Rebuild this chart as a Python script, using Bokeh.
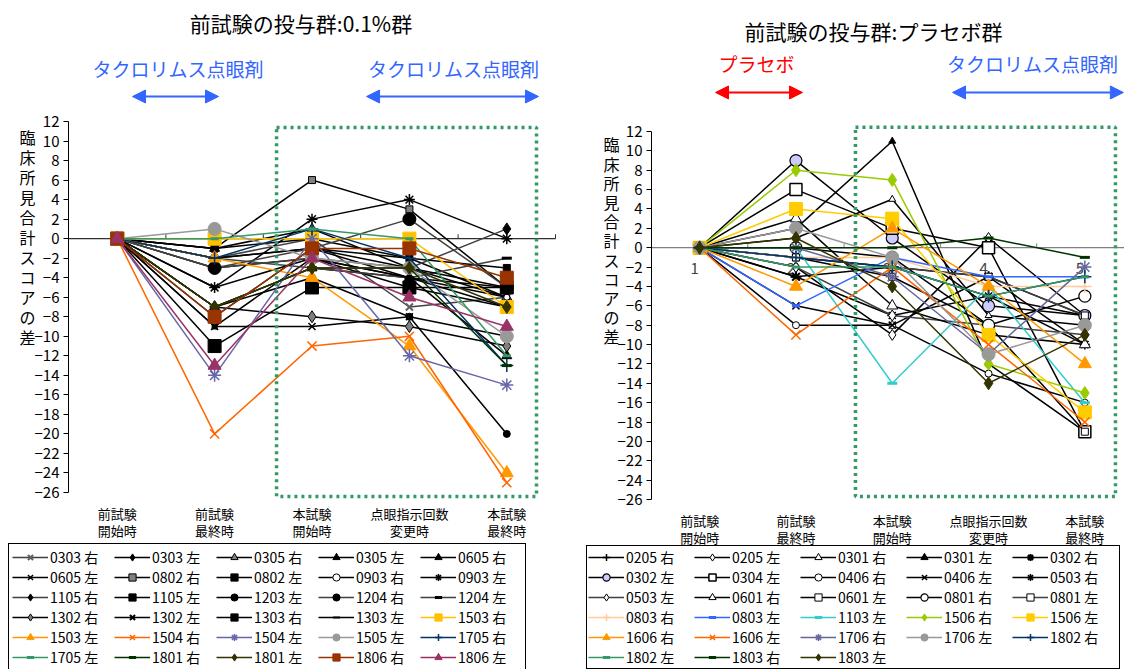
from bokeh.plotting import figure
from bokeh.models import (Range1d, FixedTicker, Label, Arrow, NormalHead, LinearAxis,
                          BoxAnnotation, Legend, LegendItem)
from bokeh.embed import file_html
from bokeh.resources import INLINE
from bokeh.core.properties import value

FONT = "Noto Sans CJK JP"

# ---------------- data ----------------
categories = ["前試験\n開始時", "前試験\n最終時", "本試験\n開始時", "点眼指示回数\n変更時", "本試験\n最終時"]
x_pos = [1, 2, 3, 4, 5]
y_ticks = [12, 10, 8, 6, 4, 2, 0, -2, -4, -6, -8, -10, -12, -14, -16, -18, -20, -22, -24, -26]
y_tick_labels = [str(t).replace("-", "−") for t in y_ticks]

left_title = "前試験の投与群:0.1%群"
right_title = "前試験の投与群:プラセボ群"
y_title = "臨床所見合計スコアの差"

L_names = ["0303 右", "0303 左", "0305 右", "0305 左", "0605 右", "0605 左", "0802 右", "0802 左",
           "0903 右", "0903 左", "1105 右", "1105 左", "1203 左", "1204 右", "1204 左", "1302 右",
           "1302 左", "1303 右", "1303 左", "1503 右", "1503 左", "1504 右", "1504 左", "1505 左",
           "1705 右", "1705 左", "1801 右", "1801 左", "1806 右", "1806 左"]
L_pre_start = [0, 0, 0, 0, 0, 0, 0, 0, 0, 0, 0, 0, 0, 0, 0, 0, 0, 0, 0, 0, 0, 0, 0, 0, 0, 0, 0, 0, 0, 0]
L_pre_end = [-2, -2, -1, -7, -3, -9, -1, -9, -2, -5, -3, -1, -7, -3, -2, -7,
             -5, -11, -8, 0, -2, -20, -14, 1, -2, 0, -7, -7, -8, -13]
L_main_start = [0, -1, 1, -3, -2, -9, 6, -2, -1, 2, -2, 0, -4, -1, -3, -8,
                -2, -5, -1, 0, -4, -11, 0, -2, 1, 1, -3, -3, -1, -2]
L_change = [-7, -4, -3, -4, -5, -8, 3, -4, -2, 4, -3, -2, -8, 2, -4, -9,
            -4, -5, -3, 0, -11, -10, -12, -3, -2, 0, -3, -3, -1, -6]
L_main_end = [-6, -5, -6, -12, -7, -10, -5, -6, -6, 0, 1, -3, -20, -5, -2, -11,
              -7, -5, -5, -7, -24, -25, -15, -10, -13, -12, -13, -7, -4, -9]

R_names = ["0205 右", "0205 左", "0301 右", "0301 左", "0302 右", "0302 左", "0304 左", "0406 右",
           "0406 左", "0503 右", "0503 左", "0601 右", "0601 左", "0801 右", "0801 左", "0803 右",
           "0803 左", "1103 左", "1506 右", "1506 左", "1606 右", "1606 左", "1706 右", "1706 左",
           "1802 右", "1802 左", "1803 右", "1803 左"]
R_pre_start = [0, 0, 0, 0, 0, 0, 0, 0, 0, 0, 0, 0, 0, 0, 0, 0, 0, 0, 0, 0, 0, 0, 0, 0, 0, 0, 0, 0]
R_pre_end = [-1, -2, 1, 2, -3, 9, 6, -8, -6, -3, -2, 3, -1, 0, -1, -1,
             -6, 0, 8, 4, -4, -9, 0, 2, -1, -2, 0, 1]
R_main_start = [-2, -9, 5, 11, -2, 1, 2, -8, -8, -7, -7, -6, -3, -1, -2, -1,
                -1, -14, 7, 3, 2, -2, -3, -1, -2, -2, 0, -4]
R_change = [-5, 1, -7, -12, -3, -6, 0, -13, -3, -5, -8, -9, -8, -8, -3, -4,
            -3, -4, -12, -9, -4, -10, -11, -11, -5, -5, 1, -14]
R_main_end = [-7, -7, -8, -19, -7, -7, -19, -16, -10, -10, -9, -10, -19, -5, -7, -4,
              -3, -16, -15, -17, -12, -18, -2, -8, -3, -3, -1, -9]

# ---------------- styles (marker, size, line color, fill, marker line, marker width) ----------------
L_styles = [
    ("x", 10, "#404040", "#606060", "#606060", 2),
    ("diamond", 7, "black", "black", "black", 1),
    ("triangle", 10, "black", "#808080", "black", 1),
    ("triangle", 10, "black", "black", "black", 1),
    ("triangle", 6, "black", "black", "black", 1),
    ("x", 10, "black", "black", "black", 1.5),
    ("square", 7, "black", "#808080", "black", 1),
    ("square", 5, "black", "black", "black", 1),
    ("circle", 6, "black", "white", "black", 1),
    ("asterisk", 11, "black", "black", "black", 1.5),
    ("diamond", 12, "#404040", "black", "black", 1),
    ("square", 7, "black", "black", "black", 1),
    ("circle", 7, "black", "black", "black", 1),
    ("circle", 13, "#404040", "black", "black", 1),
    ("dash", 10, "#404040", "black", "black", 3),
    ("diamond", 12, "black", "#808080", "black", 1),
    ("x", 6, "black", "black", "black", 2),
    ("square", 13, "black", "black", "black", 1),
    ("dash", 7, "black", "black", "black", 2),
    ("square", 13, "#FFC000", "#FFC000", "#FFC000", 1),
    ("triangle", 13, "#FF9900", "#FF9900", "#FF9900", 1),
    ("x", 13, "#FF6600", "#FF6600", "#FF6600", 1.5),
    ("asterisk", 13, "#6666AA", "#6666AA", "#6666AA", 1.5),
    ("circle", 13, "#999999", "#999999", "#999999", 1),
    ("cross", 13, "#003366", "#003366", "#003366", 1.5),
    ("dash", 8, "#339966", "#339966", "#339966", 3),
    ("dash", 10, "#003300", "#003300", "#003300", 3),
    ("diamond", 13, "#333300", "#333300", "#333300", 1),
    ("square", 13, "#993300", "#993300", "#993300", 1),
    ("triangle", 13, "#993366", "#993366", "#993366", 1),
]
R_styles = [
    ("cross", 12, "black", "black", "black", 1.5),
    ("diamond", 11, "black", "white", "black", 1),
    ("triangle", 7, "black", "white", "black", 1),
    ("triangle", 7, "black", "black", "black", 1),
    ("asterisk", 11, "black", "black", "black", 2),
    ("circle", 12, "black", "#CCCCFF", "black", 1.2),
    ("square", 12, "black", "white", "black", 1.5),
    ("circle", 7, "black", "white", "black", 1),
    ("x", 10, "black", "black", "black", 1.5),
    ("asterisk", 10, "black", "black", "black", 1.5),
    ("diamond", 11, "#404040", "white", "black", 1),
    ("triangle", 11, "black", "white", "black", 1),
    ("square", 7, "black", "white", "black", 1),
    ("circle", 12, "black", "white", "black", 1.2),
    ("square", 7, "#404040", "white", "black", 1),
    ("cross", 13, "#FFCC99", "#FFCC99", "#FFCC99", 1.5),
    ("dash", 8, "#3366FF", "#3366FF", "#3366FF", 3),
    ("dash", 10, "#33CCCC", "#33CCCC", "#33CCCC", 3),
    ("diamond", 13, "#99CC00", "#99CC00", "#99CC00", 1),
    ("square", 13, "#FFCC00", "#FFCC00", "#FFCC00", 1),
    ("triangle", 13, "#FF9900", "#FF9900", "#FF9900", 1),
    ("x", 13, "#FF6600", "#FF6600", "#FF6600", 1.5),
    ("asterisk", 13, "#666699", "#666699", "#666699", 1.5),
    ("circle", 13, "#999999", "#999999", "#999999", 1),
    ("cross", 13, "#003366", "#003366", "#003366", 1.5),
    ("dash", 8, "#339966", "#339966", "#339966", 3),
    ("dash", 10, "#003300", "#003300", "#003300", 3),
    ("diamond", 13, "#333300", "#333300", "#333300", 1),
]

# ---------------- one canvas, two coordinate systems ----------------
W, H = 1124, 669
# left chart: x=0.5 at 68 px, 97.4 px/unit ; y=12 at 121 px, 9.763 px/unit
LX0 = 0.5 - 68 / 97.4
LX1 = 0.5 + (W - 68) / 97.4
LY1 = 12 + 121 / 9.763
LY0 = 12 - (H - 121) / 9.763
# right chart: x=0.5 at 651 px, 96.3 px/unit ; y=12 at 131 px, 9.684 px/unit
RX0 = 0.5 - 651 / 96.3
RX1 = 0.5 + (W - 651) / 96.3
RY1 = 12 + 131 / 9.684
RY0 = 12 - (H - 131) / 9.684

p = figure(width=W, height=H, output_backend="svg", toolbar_location=None,
           x_range=Range1d(LX0, LX1), y_range=Range1d(LY0, LY1),
           x_axis_type=None, y_axis_type=None, min_border=0,
           outline_line_color=None, background_fill_color="white", border_fill_color="white")
p.extra_x_ranges = {"xr": Range1d(RX0, RX1)}
p.extra_y_ranges = {"yr": Range1d(RY0, RY1)}
p.xgrid.visible = False
p.ygrid.visible = False

LR = dict()
RR = dict(x_range_name="xr", y_range_name="yr")


def add_axes(rng, x_lo, x_hi, y_bottom, standoff):
    ya = LinearAxis(fixed_location=0.5, bounds=(-26, 12), ticker=FixedTicker(ticks=y_ticks),
                    major_label_overrides=dict(zip(y_ticks, y_tick_labels)),
                    minor_tick_line_color=None, major_tick_in=0, major_tick_out=5,
                    major_label_standoff=4, axis_line_color="black", major_tick_line_color="black",
                    major_label_text_font=FONT, major_label_text_font_size="15px",
                    major_label_text_color="black", **rng)
    p.add_layout(ya, "left")
    xa = LinearAxis(fixed_location=y_bottom, bounds=(x_lo, x_hi), ticker=FixedTicker(ticks=x_pos),
                    major_label_overrides=dict(zip(x_pos, categories)),
                    axis_line_color=None, major_tick_line_color=None, minor_tick_line_color=None,
                    major_label_standoff=standoff, major_label_text_font=FONT,
                    major_label_text_font_size="13px", major_label_text_color="black",
                    major_label_text_line_height=0.85, **rng)
    p.add_layout(xa, "below")


def add_zero_line(rng, x_hi, color):
    p.line(x=[0.5, x_hi], y=[0, 0], line_color=color, line_width=1.2, **rng)
    bounds = [c + 0.5 for c in x_pos]
    p.segment(x0=bounds, y0=[0] * 5, x1=bounds, y1=[0.45] * 5, line_color=color, line_width=1, **rng)


def add_series(names, cols, styles, rng):
    items = []
    for i, name in enumerate(names):
        ys = [c[i] for c in cols]
        m, s, lc, fc, mlc, mw = styles[i]
        r1 = p.line(x=x_pos, y=ys, line_color=lc, line_width=1.5, **rng)
        r2 = p.scatter(x=x_pos, y=ys, marker=m, size=s, fill_color=fc, line_color=mlc,
                       line_width=mw, **rng)
        items.append(LegendItem(label=name, renderers=[r1, r2]))
    return items


def add_label(rng, x, y, text, color, size, baseline="middle", line_height=1.0):
    p.add_layout(Label(x=x, y=y, text=text, text_align="center", text_baseline=baseline,
                       text_font=FONT, text_font_size=size, text_color=color,
                       text_line_height=line_height, **rng))


def add_arrow(rng, x0, x1, y, color):
    p.add_layout(Arrow(x_start=x0, y_start=y, x_end=x1, y_end=y, line_color=color, line_width=2,
                       start=NormalHead(size=13, fill_color=color, line_color=color),
                       end=NormalHead(size=13, fill_color=color, line_color=color), **rng))


def add_legend(items, x, y, label_width, padding):
    leg = Legend(items=items, orientation="horizontal", ncols=5, location=(x, y),
                 margin=0, padding=padding, spacing=0, glyph_width=36, glyph_height=18,
                 label_height=18, label_width=label_width, label_standoff=2,
                 label_text_font=FONT, label_text_font_size="14px", label_text_color="black",
                 border_line_color="black", border_line_width=1, border_line_alpha=1,
                 background_fill_color="white", background_fill_alpha=1)
    p.add_layout(leg)


blue = "#3366FF"
red = "#FF0000"
green = "#339966"

# ---------- left chart ----------
add_axes(LR, 0.5, 5.5, -26.4, 2)
add_zero_line(LR, 5.5, "#303030")
p.add_layout(BoxAnnotation(left=2.636, right=5.305, top=11.39, bottom=-26.4, fill_alpha=0,
                           line_color=green, line_alpha=1, line_width=3.5, line_dash="3 4"))
L_items = add_series(L_names, [L_pre_start, L_pre_end, L_main_start, L_change, L_main_end], L_styles, LR)
add_label(LR, 2.887, 22.14, left_title, "black", "21px")
add_label(LR, 1.624, 17.43, "タクロリムス点眼剤", blue, "19px")
add_label(LR, 4.453, 17.43, "タクロリムス点眼剤", blue, "19px")
add_arrow(LR, 1.157, 2.04, 14.56, blue)
add_arrow(LR, 3.56, 5.325, 14.56, blue)
add_label(LR, 0.079, 11.6, "\n".join(y_title), "black", "16px", baseline="top", line_height=0.83)

# ---------- right chart ----------
add_axes(RR, 0.5, 5.5, -26, 6)
add_zero_line(RR, 5.5, "#808080")
p.add_layout(BoxAnnotation(left=2.618, right=5.318, top=12.45, bottom=-25.7, fill_alpha=0,
                           line_color=green, line_alpha=1, line_width=3.5, line_dash="3 4", **RR))
p.text(x=x_pos, y=[-2.1] * 5, text=[str(c) for c in x_pos], x_offset=-5, text_align="center",
       text_baseline="middle", text_font=value(FONT), text_font_size="15px",
       text_color="#404040", **RR)
R_items = add_series(R_names, [R_pre_start, R_pre_end, R_main_start, R_change, R_main_end], R_styles, RR)
add_label(RR, 2.805, 22.33, right_title, "black", "21px")
add_label(RR, 1.59, 19.02, "プラセボ", red, "19px")
add_label(RR, 4.456, 19.02, "タクロリムス点眼剤", blue, "19px")
add_arrow(RR, 1.165, 2.068, 16.03, red)
add_arrow(RR, 3.626, 5.40, 16.03, blue)
add_label(RR, 0.085, 11.9, "\n".join(y_title), "black", "16px", baseline="top", line_height=0.8)

# ---------- legends ----------
add_legend(L_items, 8, -2, 64, 3)
add_legend(R_items, 586, 0, 68, 1)

open("out.html", "w").write(file_html(p, INLINE))
